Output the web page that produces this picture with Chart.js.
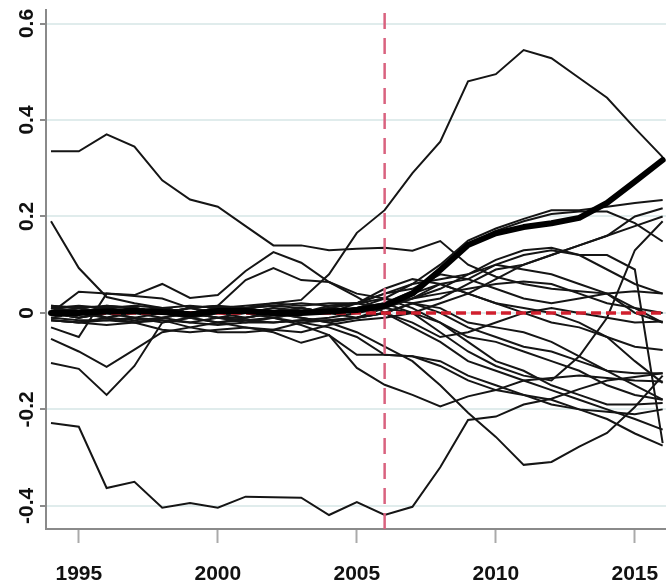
<!DOCTYPE html>
<html>
<head>
    <title>Placebo gaps</title>
    <script src="https://cdn.jsdelivr.net/npm/chart.js"></script>
    <style>
        body { margin: 0; background: #fff; }
        #wrap { width: 666px; height: 587px; position: relative; }
    </style>
</head>
<body>
    <div id="wrap"><canvas id="figure"></canvas></div>

    <script>
        var years = [1994,1995,1996,1997,1998,1999,2000,2001,2002,2003,2004,2005,
                     2006,2007,2008,2009,2010,2011,2012,2013,2014,2015,2016];
        var xTicks = [1995, 2000, 2005, 2010, 2015];
        var yTicks = [0.6, 0.4, 0.2, 0, -0.2, -0.4];
        var yLabels = ['0.6', '0.4', '0.2', '0', '-0.2', '-0.4'];
        var treatYear = 2006;

        // treated unit (thick line)
        var treated = [0.0,0.0,0.003,0.004,0.002,-0.003,0.004,0.004,0.0,0.0,0.003,0.006,
                       0.015,0.04,0.089,0.141,0.165,0.178,0.186,0.197,0.228,0.272,0.317];

        // donor / placebo units (thin lines)
        var placebos = [
            [0.335,0.335,0.37,0.345,0.275,0.235,0.22,0.18,0.14,0.14,0.13,0.133,0.135,0.129,0.149,0.1,0.075,0.06,0.05,0.045,0.04,0.01,-0.02],
            [0.01,0.0,-0.01,0.005,0.01,0.0,0.005,0.01,0.02,0.027,0.08,0.166,0.213,0.29,0.355,0.48,0.495,0.545,0.528,0.487,0.446,0.383,0.323],
            [0.19,0.093,0.033,0.02,0.01,0.0,-0.01,0.0,0.01,0.005,0.0,0.01,0.02,0.03,0.05,0.08,0.11,0.13,0.135,0.12,0.09,0.06,0.04],
            [-0.228,-0.236,-0.363,-0.35,-0.404,-0.394,-0.404,-0.381,-0.382,-0.383,-0.419,-0.392,-0.419,-0.402,-0.32,-0.222,-0.215,-0.19,-0.178,-0.158,-0.14,-0.133,-0.125],
            [0.0,0.044,0.04,0.037,0.06,0.031,0.037,0.087,0.126,0.104,0.064,0.04,0.03,0.01,-0.02,-0.05,-0.06,-0.08,-0.1,-0.12,-0.15,-0.17,-0.18],
            [-0.054,-0.08,-0.112,-0.076,-0.04,-0.03,-0.02,-0.01,0.0,-0.01,-0.02,-0.01,0.0,0.02,0.03,0.06,0.09,0.1,0.12,0.14,0.16,0.2,0.217],
            [-0.104,-0.116,-0.17,-0.11,-0.02,-0.01,-0.02,-0.015,-0.01,-0.02,-0.03,-0.05,-0.087,-0.09,-0.1,-0.13,-0.15,-0.17,-0.19,-0.2,-0.205,-0.21,-0.2],
            [-0.03,-0.05,0.04,0.035,0.03,0.01,0.015,0.068,0.093,0.068,0.064,0.033,0.0,-0.02,-0.05,-0.04,-0.02,0.0,0.01,0.0,-0.01,-0.02,-0.018],
            [0.0,-0.01,0.0,-0.01,-0.02,-0.01,-0.02,-0.03,-0.04,-0.062,-0.046,-0.114,-0.149,-0.17,-0.194,-0.173,-0.16,-0.14,-0.135,-0.13,-0.135,-0.14,-0.142],
            [0.015,0.01,0.0,0.01,0.0,-0.01,0.0,0.01,0.0,-0.01,-0.02,-0.04,-0.07,-0.1,-0.15,-0.207,-0.257,-0.315,-0.309,-0.277,-0.249,-0.195,-0.13],
            [0.01,0.005,0.0,0.01,0.0,0.0,0.01,0.0,0.01,0.0,0.01,0.02,0.03,0.06,0.1,0.15,0.175,0.195,0.213,0.213,0.22,0.228,0.234],
            [-0.01,0.0,0.01,0.0,0.005,0.0,0.0,0.01,0.0,0.01,0.0,0.01,0.02,0.045,0.09,0.14,0.17,0.19,0.205,0.21,0.21,0.186,0.148],
            [0.0,-0.01,0.0,0.01,0.0,-0.01,0.0,0.0,-0.01,0.0,0.01,0.0,0.02,0.0,-0.04,-0.08,-0.11,-0.13,-0.14,-0.09,-0.01,0.13,0.19],
            [0.015,0.01,0.015,0.01,0.0,0.01,0.0,0.01,0.015,0.01,0.0,0.02,0.04,0.06,0.07,0.08,0.1,0.12,0.13,0.12,0.12,0.09,-0.27],
            [-0.015,-0.02,-0.01,-0.02,-0.01,-0.02,-0.01,-0.02,-0.01,-0.025,-0.046,-0.087,-0.087,-0.09,-0.11,-0.14,-0.16,-0.17,-0.18,-0.2,-0.22,-0.25,-0.275],
            [0.0,0.01,-0.01,0.0,0.01,0.015,0.01,0.0,-0.01,0.0,0.015,0.02,0.05,0.07,0.06,0.04,0.02,0.0,-0.02,-0.03,-0.05,-0.07,-0.077],
            [-0.01,-0.015,-0.015,-0.01,-0.015,-0.02,-0.025,-0.02,-0.02,-0.015,-0.01,0.0,0.01,0.0,-0.02,-0.06,-0.1,-0.12,-0.15,-0.17,-0.19,-0.19,-0.187],
            [0.0,0.0,0.015,0.01,0.0,0.01,0.015,0.01,0.015,0.02,0.015,0.02,0.04,0.05,0.08,0.07,0.05,0.03,0.02,0.03,0.04,0.045,0.04],
            [0.01,0.0,-0.01,-0.015,-0.01,0.0,-0.01,-0.015,-0.02,-0.015,-0.015,-0.01,0.0,0.02,0.01,-0.02,-0.03,-0.04,-0.06,-0.09,-0.12,-0.15,-0.18],
            [-0.015,-0.02,-0.015,-0.02,-0.035,-0.04,-0.035,-0.03,-0.035,-0.02,-0.015,-0.01,0.01,0.03,0.04,0.05,0.06,0.065,0.06,0.04,0.02,0.01,0.0],
            [0.0,-0.01,0.0,0.0,0.01,0.0,-0.01,-0.01,0.0,0.01,0.0,-0.01,0.0,-0.03,-0.06,-0.1,-0.12,-0.14,-0.16,-0.18,-0.2,-0.22,-0.242],
            [0.01,0.015,0.01,0.015,0.01,0.0,0.01,0.015,0.02,0.015,0.02,0.02,0.01,0.03,0.06,0.04,0.02,0.01,0.0,-0.02,-0.05,-0.1,-0.145],
            [-0.015,-0.02,-0.025,-0.02,-0.015,-0.03,-0.04,-0.04,-0.035,-0.04,-0.025,-0.015,-0.01,0.0,0.02,0.04,0.07,0.1,0.12,0.14,0.16,0.18,0.2],
            [0.0,0.01,0.0,-0.01,0.0,0.01,0.0,-0.01,0.0,0.01,0.0,0.01,0.03,0.02,0.0,-0.03,-0.05,-0.07,-0.08,-0.1,-0.12,-0.125,-0.125],
            [0.005,0.0,0.01,0.0,-0.01,0.0,0.01,0.0,-0.005,0.0,0.01,0.02,0.01,0.04,0.06,0.07,0.1,0.09,0.08,0.06,0.04,0.0,-0.02]
        ];

        var yMin = -0.448, yMax = 0.628;
        var xMin = 1993.82, xMax = 2016.12;
        var fontFam = '"Liberation Sans", Arial, sans-serif';

        function toPoints(vals) {
            return years.map(function (yr, i) { return { x: yr, y: vals[i] }; });
        }

        var datasets = [];
        datasets.push({
            data: toPoints(treated), borderColor: '#000', borderWidth: 6,
            pointRadius: 0, order: 0, borderCapStyle: 'round', borderJoinStyle: 'round'
        });
        datasets.push({
            data: [{ x: years[0], y: 0 }, { x: years[years.length - 1], y: 0 }],
            borderColor: '#d01f2e', borderWidth: 3.5, borderDash: [10, 5],
            pointRadius: 0, order: 1
        });
        datasets.push({
            data: [{ x: treatYear, y: yMin }, { x: treatYear, y: yMax }],
            borderColor: '#d9627f', borderWidth: 2.5, borderDash: [16, 9],
            pointRadius: 0, order: 2
        });
        placebos.forEach(function (p) {
            datasets.push({
                data: toPoints(p), borderColor: '#151515', borderWidth: 2,
                pointRadius: 0, order: 3
            });
        });

        var yLabelPlugin = {
            id: 'yLabels',
            afterDraw: function (chart) {
                var ctx = chart.ctx, ys = chart.scales.y;
                ctx.save();
                ctx.fillStyle = '#111';
                ctx.font = 'bold 21px ' + fontFam;
                ctx.textAlign = 'center';
                ctx.textBaseline = 'alphabetic';
                yTicks.forEach(function (v, i) {
                    ctx.save();
                    ctx.translate(33, ys.getPixelForValue(v));
                    ctx.rotate(-Math.PI / 2);
                    ctx.fillText(yLabels[i], 0, 0);
                    ctx.restore();
                });
                ctx.restore();
            }
        };

        new Chart(document.getElementById('figure').getContext('2d'), {
            type: 'line',
            data: { datasets: datasets },
            plugins: [yLabelPlugin],
            options: {
                responsive: true,
                maintainAspectRatio: false,
                animation: false,
                layout: { padding: { top: 10, right: 0, left: 0, bottom: 0 } },
                plugins: { legend: { display: false }, tooltip: { enabled: false } },
                elements: { line: { tension: 0 } },
                scales: {
                    x: {
                        type: 'linear', min: xMin, max: xMax,
                        afterBuildTicks: function (s) { s.ticks = xTicks.map(function (v) { return { value: v }; }); },
                        afterFit: function (s) { s.height = 58; s.paddingLeft = 0; s.paddingRight = 0; },
                        grid: { drawOnChartArea: false, drawTicks: true, tickLength: 14, tickColor: '#aaa', tickWidth: 2 },
                        border: { color: '#8a8a8a', width: 2 },
                        ticks: {
                            padding: 19, maxRotation: 0, autoSkip: false,
                            color: '#111', font: { family: fontFam, size: 21, weight: 'bold' },
                            callback: function (v) { return String(v); }
                        }
                    },
                    y: {
                        type: 'linear', min: yMin, max: yMax,
                        afterBuildTicks: function (s) { s.ticks = yTicks.map(function (v) { return { value: v }; }); },
                        afterFit: function (s) { s.width = 46; s.paddingTop = 0; s.paddingBottom = 0; },
                        grid: { color: '#e0ecec', lineWidth: 2, tickLength: 6, tickColor: '#8a8a8a', tickWidth: 2 },
                        border: { color: '#8a8a8a', width: 2 },
                        ticks: { color: 'rgba(0,0,0,0)', padding: 2, callback: function (v) { return ''; } }
                    }
                }
            }
        });
    </script>
</body>
</html>
